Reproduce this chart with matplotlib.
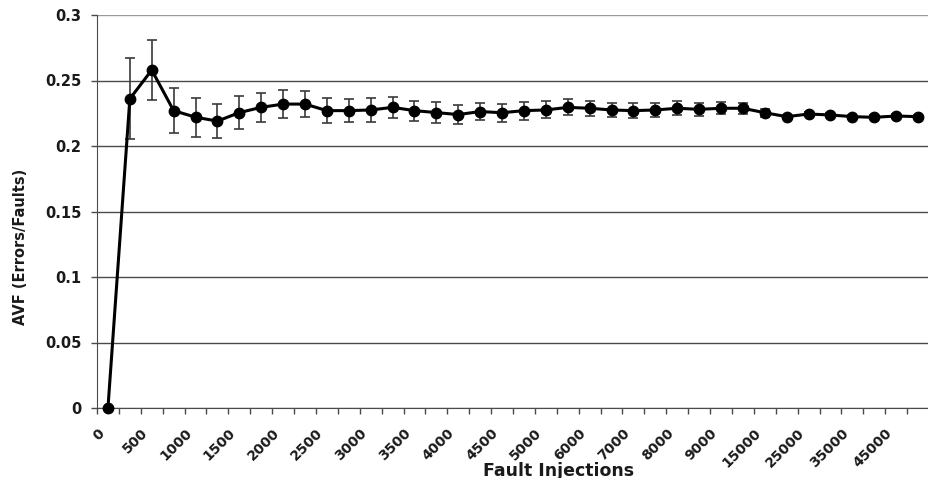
import matplotlib
matplotlib.use("Agg")
import matplotlib.pyplot as plt
import matplotlib.transforms as mtransforms
import numpy as np

# fault injection counts (categories, evenly spaced on the axis)
injections = [0, 250, 500, 750, 1000, 1250, 1500, 1750, 2000, 2250, 2500,
              2750, 3000, 3250, 3500, 3750, 4000, 4250, 4500, 4750, 5000,
              5500, 6000, 6500, 7000, 7500, 8000, 8500, 9000, 10000,
              15000, 20000, 25000, 30000, 35000, 40000, 45000, 50000]

# AVF mean and error bar half-width
avf = [0.0, 0.236, 0.258, 0.227, 0.222, 0.219, 0.2255, 0.2295, 0.232, 0.232,
       0.227, 0.227, 0.2275, 0.2295, 0.227, 0.2255, 0.224, 0.2263, 0.2254,
       0.227, 0.2275, 0.2295, 0.2288, 0.2275, 0.227, 0.2275, 0.2288, 0.228,
       0.2288, 0.2288, 0.2254, 0.2224, 0.2244, 0.2237, 0.2224, 0.2219,
       0.2229, 0.2224]
avf_err = [0.0, 0.031, 0.023, 0.017, 0.015, 0.013, 0.0125, 0.011, 0.0105,
           0.0102, 0.0093, 0.009, 0.0089, 0.0082, 0.0077, 0.0079, 0.0074,
           0.0067, 0.0068, 0.0068, 0.0065, 0.006, 0.0059, 0.0056, 0.0055,
           0.0055, 0.0055, 0.0051, 0.0047, 0.0044, 0.003, 0.0015, 0.0015,
           0.0015, 0.0015, 0.0015, 0.0015, 0.0015]

yticks = [0, 0.05, 0.1, 0.15, 0.2, 0.25, 0.3]
ytick_labels = ["0", "0.05", "0.1", "0.15", "0.2", "0.25", "0.3"]

plt.rcParams['font.family'] = ['DejaVu Sans']
plt.rcParams['font.weight'] = 'bold'

fig = plt.figure(figsize=(9.29, 4.78), dpi=100)
ax = fig.add_axes([97 / 929, 70 / 478, 832 / 929, 393 / 478])

x = np.arange(len(injections))
ax.errorbar(x, avf, yerr=avf_err, fmt='none', ecolor='#3a3a3a',
            elinewidth=1.2, capsize=3.8, capthick=1.2, zorder=2)
ax.plot(x, avf, '-o', color='black', lw=2.2, ms=7.5, zorder=3, clip_on=False)

ax.set_xlim(-0.5, 37.1)
ax.set_ylim(0, 0.3)

# y axis + horizontal grid
ax.set_yticks(yticks, ytick_labels)
ax.yaxis.grid(True, color='#4a4a4a', lw=1.0)
ax.get_ygridlines()[-1].set_color('#9a9a9a')
ax.set_axisbelow(True)
ax.tick_params(axis='y', direction='out', length=4, width=1, color='#4a4a4a',
               pad=7, labelsize=10.5, labelcolor='#1a1a1a')

# x axis: labels every other category, tick marks between categories
ax.set_xticks(x[::2], [str(v) for v in injections[::2]])
ax.set_xticks(np.arange(-0.5, len(injections), 1), minor=True)
ax.tick_params(axis='x', which='major', length=0, pad=13, labelsize=10,
               labelcolor='#1a1a1a')
ax.tick_params(axis='x', which='minor', direction='out', length=4, width=1,
               color='#4a4a4a')
offset = mtransforms.ScaledTranslation(-11 / 100, 0, fig.dpi_scale_trans)
for lab in ax.get_xticklabels():
    lab.set_rotation(45)
    lab.set_ha('right')
    lab.set_va('top')
    lab.set_rotation_mode('anchor')
    lab.set_transform(lab.get_transform() + offset)

for side in ['top', 'right']:
    ax.spines[side].set_visible(False)
ax.spines['left'].set_color('#4a4a4a')
ax.spines['bottom'].set_color('#4a4a4a')

ax.set_xlabel("Fault Injections", fontsize=12.5, fontweight='bold',
              labelpad=0, color='#1a1a1a')
ax.xaxis.set_label_coords((559 - 97) / 832, -0.137)
ax.set_ylabel("AVF (Errors/Faults)", fontsize=10.5, fontweight='bold',
              color='#1a1a1a')
ax.yaxis.set_label_coords(-0.083, 0.41)

fig.savefig("out.png", dpi=100)
